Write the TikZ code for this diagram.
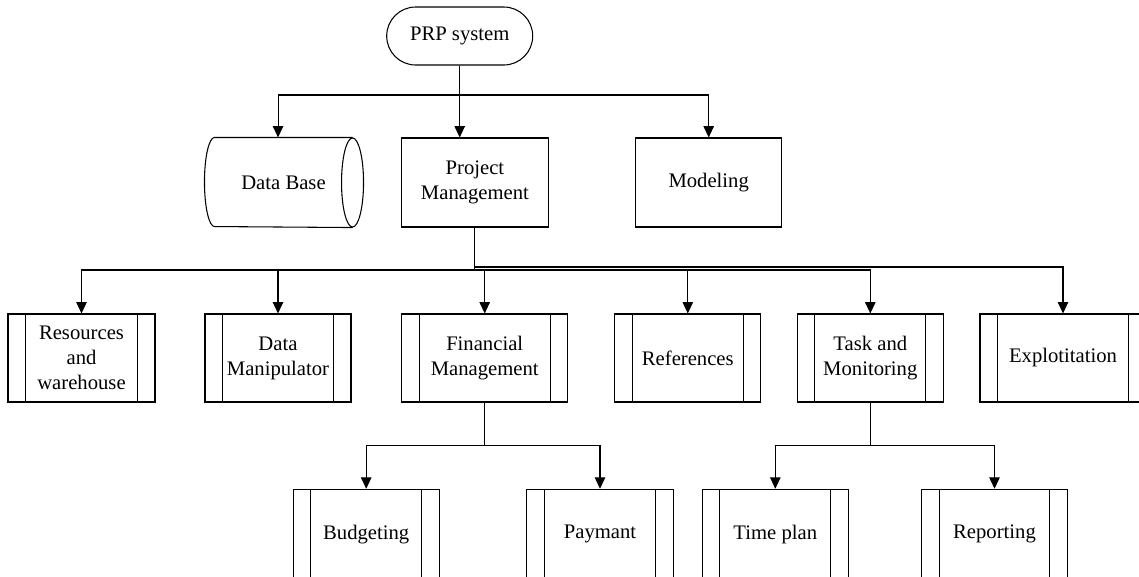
\documentclass[tikz,border=0pt]{standalone}
\usepackage{fontspec}
\setmainfont{Liberation Serif}
\usetikzlibrary{arrows.meta}
\tikzset{
  base/.style={font=\fontsize{15.5pt}{18.75pt}\selectfont, align=center, inner sep=0pt, line width=0.8pt},
  plainbox/.style={base, draw, rectangle, minimum height=66.75pt},
  ppbox/.style={base, draw, rectangle, minimum height=66pt,
    path picture={
      \draw[line width=0.8pt] ([xshift=13.1pt]path picture bounding box.north west) -- ([xshift=13.1pt]path picture bounding box.south west);
      \draw[line width=0.8pt] ([xshift=-13.1pt]path picture bounding box.north east) -- ([xshift=-13.1pt]path picture bounding box.south east);
    }},
  arr/.style={line width=0.8pt, -{Triangle[width=7.8pt,length=8.5pt]}},
}
\begin{document}
\begin{tikzpicture}[x=0.75pt, y=0.75pt]
\useasboundingbox (0,0) rectangle (1139,-576);
\clip (0,0) rectangle (1139,-576);
% top
\node[base, draw, rectangle, rounded corners=21.7pt, minimum width=109.5pt, minimum height=43.5pt] (PRP) at (459.7,-36) {PRP system};
\node[base, minimum width=102.75pt, minimum height=66.75pt] (DB) at (283.5,-182.5) {Data Base};
\draw[line width=0.8pt] (DB.north east) -- (DB.north west)
  arc[start angle=90, end angle=270, x radius=7.5pt, y radius=33.4pt]
  -- (DB.south east);
\draw[line width=0.8pt] (DB.east) ellipse [x radius=8.25pt, y radius=33.4pt];
\node[plainbox, minimum width=109.9pt] (PM) at (474.9,-182.5) {Project\\Management};
\node[plainbox, minimum width=109.5pt] (MOD) at (708.7,-182.5) {Modeling};
% middle row
\node[ppbox, minimum width=110.25pt] (RES) at (81.5,-358) {Resources\\and\\warehouse};
\node[ppbox, minimum width=109.5pt] (DM) at (278,-358) {Data\\Manipulator};
\node[ppbox, minimum width=124.5pt] (FIN) at (484.7,-358) {Financial\\Management};
\node[ppbox, minimum width=109.5pt] (REF) at (687.8,-358) {References};
\node[ppbox, minimum width=109.5pt] (TASK) at (870.3,-358) {Task and\\Monitoring};
\node[ppbox, minimum width=124.5pt] (EXP) at (1063,-358) {Explotitation};
% bottom row
\node[ppbox, minimum width=109.5pt, minimum height=67.5pt] (BUD) at (366.2,-534.3) {Budgeting};
\node[ppbox, minimum width=110pt, minimum height=67.5pt] (PAY) at (600,-534.3) {Paymant};
\node[ppbox, minimum width=109.5pt, minimum height=67.5pt] (TP) at (775.3,-534.3) {Time plan};
\node[ppbox, minimum width=109.2pt, minimum height=67.5pt] (REP) at (994.5,-534.3) {Reporting};
% bus coordinates
\coordinate (topbus) at (0,-95);
\coordinate (bus) at (0,-270);
\coordinate (bustwo) at (0,-267);
\coordinate (lowbus) at (0,-445.7);
% top connectors
\draw[arr] (PRP.south) -- (PRP.south |- PM.north);
\draw[arr] (PRP.south) |- ([xshift=-4.1pt]DB.north |- topbus) -- ([xshift=-4.1pt]DB.north);
\draw[arr] (PRP.south) |- (MOD.north |- topbus) -- (MOD.north);
% middle connectors
\draw[arr] (PM.south) |- (RES.north |- bus) -- (RES.north);
\draw[arr] (PM.south) |- (DM.north |- bus) -- (DM.north);
\draw[arr] (PM.south) |- (FIN.north |- bus) -- (FIN.north);
\draw[arr] (PM.south) |- (REF.north |- bus) -- (REF.north);
\draw[arr] (PM.south) |- (TASK.north |- bus) -- (TASK.north);
\draw[arr] (PM.south) |- (EXP.north |- bustwo) -- (EXP.north);
% bottom connectors
\draw[arr] (FIN.south) |- (BUD.north |- lowbus) -- (BUD.north);
\draw[arr] (FIN.south) |- (PAY.north |- lowbus) -- (PAY.north);
\draw[arr] (TASK.south) |- (TP.north |- lowbus) -- (TP.north);
\draw[arr] (TASK.south) |- (REP.north |- lowbus) -- (REP.north);
\end{tikzpicture}
\end{document}
